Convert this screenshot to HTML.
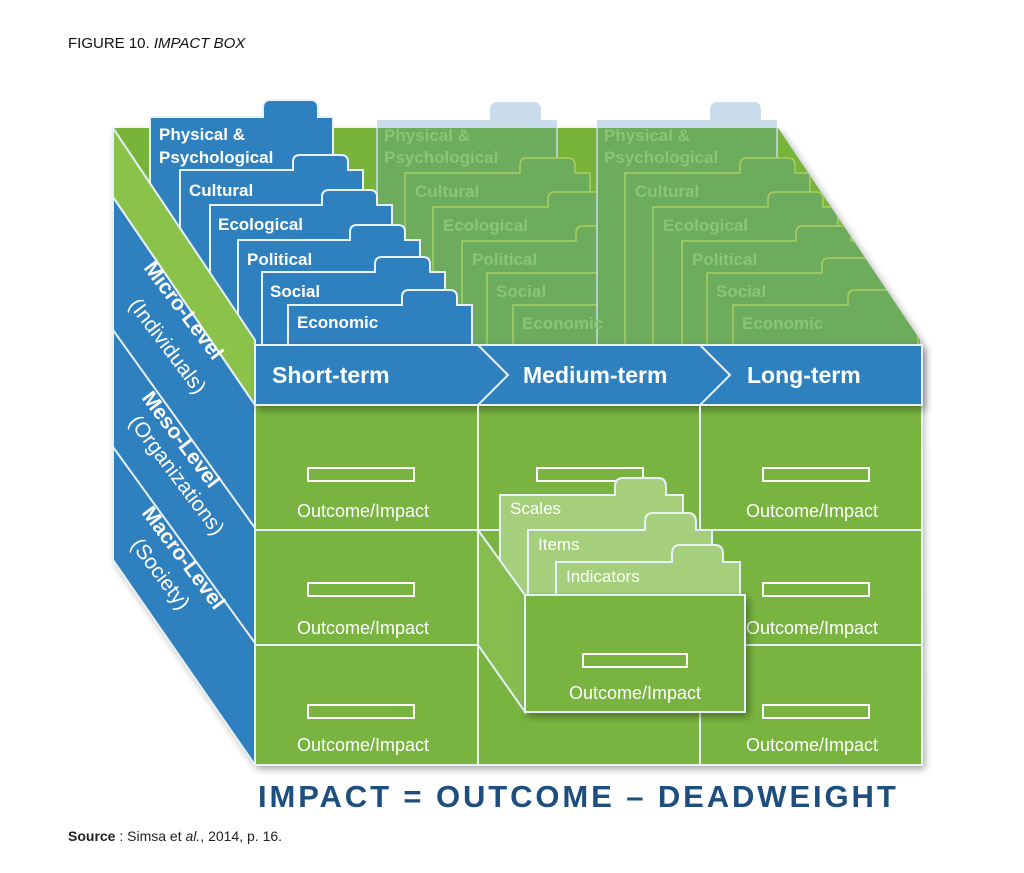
<!DOCTYPE html>
<html><head><meta charset="utf-8"><style>
body{margin:0;background:#fff;width:1024px;height:868px;overflow:hidden;font-family:"Liberation Sans",sans-serif}
</style></head><body>
<svg width="1024" height="868" viewBox="0 0 1024 868" xmlns="http://www.w3.org/2000/svg" font-family="Liberation Sans, DejaVu Sans, sans-serif">
<defs>
<filter id="sh" x="-10%" y="-10%" width="130%" height="130%"><feDropShadow dx="3" dy="4" stdDeviation="4" flood-color="#000" flood-opacity="0.35"/></filter>
<clipPath id="topclip"><polygon points="300,128 778,128 920,340 920,346 300,346"/></clipPath>
<clipPath id="tabclip"><rect x="300" y="90" width="500" height="38"/></clipPath>
</defs>
<text x="68" y="48" font-size="15" fill="#111">FIGURE 10. <tspan font-style="italic">IMPACT BOX</tspan></text>

<g filter="url(#sh)">
<polygon points="113,128 778,128 920,340 922,765 255,765 113,560" fill="#79b441"/>
</g>
<!-- top face -->
<polygon points="113,128 778,128 920,340 255,340" fill="#78b43a"/>
<!-- front face -->
<rect x="255" y="405" width="667" height="360" fill="#79b441" stroke="#e8f0f8" stroke-width="2"/>

<!-- faded tabs above top face -->
<g clip-path="url(#tabclip)" fill="#c9dcea">
<path d="M377,130 V120 H490 V110 Q490,102 498,102 H533 Q541,102 541,110 V120 H557 V130Z"/>
<path d="M597,130 V120 H710 V110 Q710,102 718,102 H753 Q761,102 761,110 V120 H777 V130Z"/>
</g>
<!-- faded folders -->
<g clip-path="url(#topclip)" fill="#6dab5d" stroke="#a8d060" stroke-width="1.5">
<path d="M377,345 V120 H490 V110 Q490,102 498,102 H533 Q541,102 541,110 V120 H557 V345Z" stroke="#c9dcea"/>
<path d="M405,345 V173 H520 V165 Q520,158 527,158 H568 Q575,158 575,165 V173 H590 V345Z"/>
<path d="M433,345 V207 H548 V199 Q548,192 555,192 H596 Q603,192 603,199 V207 H618 V345Z"/>
<path d="M462,345 V241 H576 V233 Q576,226 583,226 H624 Q631,226 631,233 V241 H646 V345Z"/>
<path d="M487,345 V273 H602 V265 Q602,258 609,258 H650 Q657,258 657,265 V273 H672 V345Z"/>
<path d="M513,345 V305 H628 V297 Q628,290 635,290 H676 Q683,290 683,297 V305 H698 V345Z"/>
<path d="M597,345 V120 H710 V110 Q710,102 718,102 H753 Q761,102 761,110 V120 H777 V345Z" stroke="#c9dcea"/>
<path d="M625,345 V173 H740 V165 Q740,158 747,158 H788 Q795,158 795,165 V173 H810 V345Z"/>
<path d="M653,345 V207 H768 V199 Q768,192 775,192 H816 Q823,192 823,199 V207 H838 V345Z"/>
<path d="M682,345 V241 H796 V233 Q796,226 803,226 H844 Q851,226 851,233 V241 H866 V345Z"/>
<path d="M707,345 V273 H822 V265 Q822,258 829,258 H870 Q877,258 877,265 V273 H892 V345Z"/>
<path d="M733,345 V305 H848 V297 Q848,290 855,290 H896 Q903,290 903,297 V305 H918 V345Z"/>
</g>
<g fill="#8cc47a" font-weight="bold" font-size="17" clip-path="url(#topclip)">
<text x="384" y="141">Physical &amp;</text><text x="384" y="163">Psychological</text>
<text x="415" y="197">Cultural</text><text x="443" y="231">Ecological</text>
<text x="472" y="265">Political</text><text x="496" y="297">Social</text><text x="522" y="329">Economic</text>
<text x="604" y="141">Physical &amp;</text><text x="604" y="163">Psychological</text>
<text x="635" y="197">Cultural</text><text x="663" y="231">Ecological</text>
<text x="692" y="265">Political</text><text x="716" y="297">Social</text><text x="742" y="329">Economic</text>
</g>

<!-- blue folders -->
<g fill="#2f80be" stroke="#e8f0f8" stroke-width="2">
<path d="M150,345 V117 H263 V108 Q263,100 270,100 H311 Q318,100 318,108 V117 H333 V345Z"/>
<path d="M180,345 V170 H293 V162 Q293,155 300,155 H341 Q348,155 348,162 V170 H363 V345Z"/>
<path d="M210,345 V205 H322 V197 Q322,190 329,190 H370 Q377,190 377,197 V205 H392 V345Z"/>
<path d="M238,345 V240 H350 V232 Q350,225 357,225 H398 Q405,225 405,232 V240 H420 V345Z"/>
<path d="M262,345 V272 H375 V264 Q375,257 382,257 H423 Q430,257 430,264 V272 H445 V345Z"/>
<path d="M288,345 V305 H402 V297 Q402,290 409,290 H450 Q457,290 457,297 V305 H472 V345Z"/>
</g>
<g fill="#fff" font-weight="bold" font-size="17">
<text x="159" y="140">Physical &amp;</text><text x="159" y="163">Psychological</text>
<text x="189" y="196">Cultural</text><text x="218" y="230">Ecological</text>
<text x="247" y="265">Political</text><text x="270" y="297">Social</text><text x="297" y="328">Economic</text>
</g>
<!-- left face -->
<polygon points="113,197 255,405 255,765 113,560" fill="#2f80be" stroke="#e8f0f8" stroke-width="2"/>
<line x1="113" y1="330" x2="255" y2="528" stroke="#e8f0f8" stroke-width="2"/>
<line x1="113" y1="447" x2="255" y2="643" stroke="#e8f0f8" stroke-width="2"/>
<!-- green strip -->
<polygon points="113,128 255,340 255,405 113,197" fill="#8bc34a" stroke="#e8f0f8" stroke-width="2"/>

<!-- header bar -->
<g filter="url(#sh)">
<polygon points="255,345 922,345 922,405 255,405" fill="#2f80be" stroke="#e8f0f8" stroke-width="2"/>
</g>
<polyline points="478,345 508,375 478,405" fill="none" stroke="#e8f0f8" stroke-width="2"/>
<polyline points="700,345 730,375 700,405" fill="none" stroke="#e8f0f8" stroke-width="2"/>
<g fill="#fff" font-weight="bold" font-size="23">
<text x="272" y="383">Short-term</text><text x="523" y="383">Medium-term</text><text x="747" y="383">Long-term</text>
</g>

<!-- grid -->
<g stroke="#e8f0f8" stroke-width="2">
<line x1="478" y1="405" x2="478" y2="765"/><line x1="700" y1="405" x2="700" y2="765"/>
<line x1="255" y1="530" x2="922" y2="530"/><line x1="255" y1="645" x2="922" y2="645"/>
</g>
<g fill="none" stroke="#fff" stroke-width="2">
<rect x="308" y="468" width="106" height="13"/><rect x="763" y="468" width="106" height="13"/>
<rect x="308" y="583" width="106" height="13"/><rect x="763" y="583" width="106" height="13"/>
<rect x="308" y="705" width="106" height="13"/><rect x="763" y="705" width="106" height="13"/>
<rect x="537" y="468" width="106" height="13"/>
</g>
<g fill="#fff" font-size="18" text-anchor="middle">
<text x="363" y="517">Outcome/Impact</text><text x="812" y="517">Outcome/Impact</text>
<text x="363" y="634">Outcome/Impact</text><text x="812" y="634">Outcome/Impact</text>
<text x="363" y="751">Outcome/Impact</text><text x="812" y="751">Outcome/Impact</text>
</g>

<!-- drawer -->
<g stroke="#e8f0f8" stroke-width="2">
<path d="M500,600 V495 H615 V487 Q615,478 623,478 H658 Q666,478 666,487 V495 H683 V600Z" fill="#a5cf7a"/>
<path d="M528,600 V530 H645 V522 Q645,513 653,513 H688 Q696,513 696,522 V530 H712 V600Z" fill="#a5cf7a"/>
<path d="M556,600 V562 H672 V554 Q672,545 680,545 H715 Q723,545 723,554 V562 H740 V600Z" fill="#a5cf7a"/>
</g>
<g fill="#fff" font-size="17">
<text x="510" y="514">Scales</text><text x="538" y="550">Items</text><text x="566" y="582">Indicators</text>
</g>
<polygon points="478,530 525,595 525,712 478,645" fill="#86bd4f" stroke="#e8f0f8" stroke-width="2"/>
<rect x="525" y="595" width="220" height="117" fill="#79b441" stroke="#e8f0f8" stroke-width="2" filter="url(#sh)"/>
<rect x="583" y="654" width="104" height="13" fill="none" stroke="#fff" stroke-width="2"/>
<text x="635" y="699" fill="#fff" font-size="18" text-anchor="middle">Outcome/Impact</text>

<!-- left labels -->
<g fill="#fff" font-size="21">
<text transform="translate(143,268) rotate(53)" font-weight="bold">Micro-Level</text>
<text transform="translate(128,305) rotate(53)">(Individuals)</text>
<text transform="translate(141,398) rotate(53)" font-weight="bold">Meso-Level</text>
<text transform="translate(128,422) rotate(53)">(Organizations)</text>
<text transform="translate(141,513) rotate(53)" font-weight="bold">Macro-Level</text>
<text transform="translate(130,545) rotate(53)">(Society)</text>
</g>

<text x="258" y="807" font-size="31" font-weight="bold" fill="#1d4e7e" letter-spacing="2.9">IMPACT = OUTCOME – DEADWEIGHT</text>
<text x="68" y="841" font-size="14" fill="#222"><tspan font-weight="bold">Source</tspan> : Simsa et <tspan font-style="italic">al.</tspan>, 2014, p. 16.</text>
</svg>
</body></html>
